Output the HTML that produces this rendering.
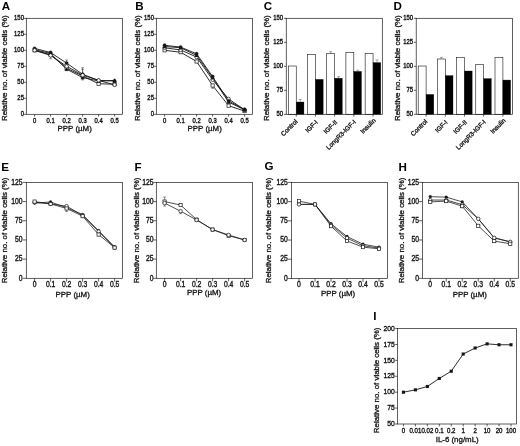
<!DOCTYPE html>
<html><head><meta charset="utf-8"><title>Figure</title>
<style>
html,body{margin:0;padding:0;background:#fff;}
body{width:520px;height:446px;overflow:hidden;font-family:"Liberation Sans",sans-serif;}
svg{display:block;font-family:"Liberation Sans",sans-serif;}
</style></head><body>
<svg width="520" height="446" viewBox="0 0 520 446">
<defs><filter id="soft" x="0" y="0" width="520" height="446" filterUnits="userSpaceOnUse"><feGaussianBlur stdDeviation="0.45"/></filter></defs>
<rect x="0" y="0" width="520" height="446" fill="#fff"/>
<g filter="url(#soft)">
<rect x="0" y="0" width="520" height="446" fill="#fff"/>
<rect x="26.30" y="18.30" width="96.20" height="96.00" fill="none" stroke="#161616" stroke-width="0.68"/>
<line x1="24.00" y1="114.30" x2="26.30" y2="114.30" stroke="#161616" stroke-width="0.68"/>
<text x="0.00" y="0.00" font-size="5.9" text-anchor="end" transform="translate(23.90 116.20) scale(1 1.25)" fill="#161616" stroke="#161616" stroke-width="0.32">0</text>
<line x1="24.00" y1="98.30" x2="26.30" y2="98.30" stroke="#161616" stroke-width="0.68"/>
<text x="0.00" y="0.00" font-size="5.9" text-anchor="end" transform="translate(23.90 100.20) scale(1 1.25)" fill="#161616" stroke="#161616" stroke-width="0.32">25</text>
<line x1="24.00" y1="82.30" x2="26.30" y2="82.30" stroke="#161616" stroke-width="0.68"/>
<text x="0.00" y="0.00" font-size="5.9" text-anchor="end" transform="translate(23.90 84.20) scale(1 1.25)" fill="#161616" stroke="#161616" stroke-width="0.32">50</text>
<line x1="24.00" y1="66.30" x2="26.30" y2="66.30" stroke="#161616" stroke-width="0.68"/>
<text x="0.00" y="0.00" font-size="5.9" text-anchor="end" transform="translate(23.90 68.20) scale(1 1.25)" fill="#161616" stroke="#161616" stroke-width="0.32">75</text>
<line x1="24.00" y1="50.30" x2="26.30" y2="50.30" stroke="#161616" stroke-width="0.68"/>
<text x="0.00" y="0.00" font-size="5.9" text-anchor="end" transform="translate(23.90 52.20) scale(1 1.25)" fill="#161616" stroke="#161616" stroke-width="0.32">100</text>
<line x1="24.00" y1="34.30" x2="26.30" y2="34.30" stroke="#161616" stroke-width="0.68"/>
<text x="0.00" y="0.00" font-size="5.9" text-anchor="end" transform="translate(23.90 36.20) scale(1 1.25)" fill="#161616" stroke="#161616" stroke-width="0.32">125</text>
<line x1="24.00" y1="18.30" x2="26.30" y2="18.30" stroke="#161616" stroke-width="0.68"/>
<text x="0.00" y="0.00" font-size="5.9" text-anchor="end" transform="translate(23.90 20.20) scale(1 1.25)" fill="#161616" stroke="#161616" stroke-width="0.32">150</text>
<line x1="34.60" y1="114.30" x2="34.60" y2="116.60" stroke="#161616" stroke-width="0.68"/>
<text x="0.00" y="0.00" font-size="5.9" text-anchor="middle" transform="translate(34.60 122.70) scale(1 1.25)" fill="#161616" stroke="#161616" stroke-width="0.32">0</text>
<line x1="50.60" y1="114.30" x2="50.60" y2="116.60" stroke="#161616" stroke-width="0.68"/>
<text x="0.00" y="0.00" font-size="5.9" text-anchor="middle" transform="translate(50.60 122.70) scale(1 1.25)" fill="#161616" stroke="#161616" stroke-width="0.32">0.1</text>
<line x1="66.60" y1="114.30" x2="66.60" y2="116.60" stroke="#161616" stroke-width="0.68"/>
<text x="0.00" y="0.00" font-size="5.9" text-anchor="middle" transform="translate(66.60 122.70) scale(1 1.25)" fill="#161616" stroke="#161616" stroke-width="0.32">0.2</text>
<line x1="82.60" y1="114.30" x2="82.60" y2="116.60" stroke="#161616" stroke-width="0.68"/>
<text x="0.00" y="0.00" font-size="5.9" text-anchor="middle" transform="translate(82.60 122.70) scale(1 1.25)" fill="#161616" stroke="#161616" stroke-width="0.32">0.3</text>
<line x1="98.60" y1="114.30" x2="98.60" y2="116.60" stroke="#161616" stroke-width="0.68"/>
<text x="0.00" y="0.00" font-size="5.9" text-anchor="middle" transform="translate(98.60 122.70) scale(1 1.25)" fill="#161616" stroke="#161616" stroke-width="0.32">0.4</text>
<line x1="114.60" y1="114.30" x2="114.60" y2="116.60" stroke="#161616" stroke-width="0.68"/>
<text x="0.00" y="0.00" font-size="5.9" text-anchor="middle" transform="translate(114.60 122.70) scale(1 1.25)" fill="#161616" stroke="#161616" stroke-width="0.32">0.5</text>
<text x="74.70" y="131.10" font-size="7.9" text-anchor="middle" fill="#161616" stroke="#161616" stroke-width="0.32">PPP (µM)</text>
<text x="0.00" y="0.00" font-size="7.9" text-anchor="start" transform="translate(7.30 121.00) rotate(-90)" fill="#161616" stroke="#161616" stroke-width="0.32">Relative no. of viable cells (%)</text>
<text x="1.80" y="9.50" font-size="11.6" text-anchor="start" font-weight="bold" fill="#000" stroke="#000" stroke-width="0">A</text>
<line x1="50.60" y1="55.42" x2="50.60" y2="58.82" stroke="#333" stroke-width="0.55"/>
<line x1="49.30" y1="58.82" x2="51.90" y2="58.82" stroke="#333" stroke-width="0.55"/>
<line x1="66.60" y1="60.00" x2="66.60" y2="63.10" stroke="#333" stroke-width="0.55"/>
<line x1="65.30" y1="60.00" x2="67.90" y2="60.00" stroke="#333" stroke-width="0.55"/>
<line x1="66.60" y1="68.22" x2="66.60" y2="70.72" stroke="#333" stroke-width="0.55"/>
<line x1="65.30" y1="70.72" x2="67.90" y2="70.72" stroke="#333" stroke-width="0.55"/>
<line x1="82.60" y1="67.73" x2="82.60" y2="75.13" stroke="#333" stroke-width="0.55"/>
<line x1="81.30" y1="67.73" x2="83.90" y2="67.73" stroke="#333" stroke-width="0.55"/>
<line x1="82.60" y1="69.33" x2="82.60" y2="75.13" stroke="#333" stroke-width="0.55"/>
<line x1="81.30" y1="69.33" x2="83.90" y2="69.33" stroke="#333" stroke-width="0.55"/>
<line x1="82.60" y1="75.13" x2="82.60" y2="79.93" stroke="#333" stroke-width="0.55"/>
<line x1="81.30" y1="79.93" x2="83.90" y2="79.93" stroke="#333" stroke-width="0.55"/>
<polyline points="34.60,50.30 50.60,54.78 66.60,68.22 82.60,75.90 98.60,83.77 114.60,84.22" fill="none" stroke="#161616" stroke-width="0.9" stroke-linejoin="round"/>
<polyline points="34.60,49.66 50.60,53.50 66.60,69.18 82.60,77.50 98.60,81.02 114.60,80.38" fill="none" stroke="#161616" stroke-width="0.9" stroke-linejoin="round"/>
<polyline points="34.60,48.38 50.60,52.54 66.60,63.10 82.60,74.30 98.60,80.38 114.60,81.02" fill="none" stroke="#161616" stroke-width="0.9" stroke-linejoin="round"/>
<polyline points="34.60,50.30 50.60,55.42 66.60,66.30 82.60,75.13 98.60,80.38 114.60,84.86" fill="none" stroke="#161616" stroke-width="0.9" stroke-linejoin="round"/>
<rect x="33.00" y="48.70" width="3.20" height="3.20" fill="#fff" stroke="#161616" stroke-width="0.7"/>
<rect x="49.00" y="53.18" width="3.20" height="3.20" fill="#fff" stroke="#161616" stroke-width="0.7"/>
<rect x="65.00" y="66.62" width="3.20" height="3.20" fill="#fff" stroke="#161616" stroke-width="0.7"/>
<rect x="81.00" y="74.30" width="3.20" height="3.20" fill="#fff" stroke="#161616" stroke-width="0.7"/>
<rect x="97.00" y="82.17" width="3.20" height="3.20" fill="#fff" stroke="#161616" stroke-width="0.7"/>
<rect x="113.00" y="82.62" width="3.20" height="3.20" fill="#fff" stroke="#161616" stroke-width="0.7"/>
<polygon points="34.60,47.56 36.70,51.34 32.50,51.34" fill="#161616"/>
<polygon points="50.60,51.40 52.70,55.18 48.50,55.18" fill="#161616"/>
<polygon points="66.60,67.08 68.70,70.86 64.50,70.86" fill="#161616"/>
<polygon points="82.60,75.40 84.70,79.18 80.50,79.18" fill="#161616"/>
<polygon points="98.60,78.92 100.70,82.70 96.50,82.70" fill="#161616"/>
<polygon points="114.60,78.28 116.70,82.06 112.50,82.06" fill="#161616"/>
<circle cx="34.60" cy="48.38" r="1.7" fill="#161616" stroke="#161616" stroke-width="0.3"/>
<circle cx="50.60" cy="52.54" r="1.7" fill="#161616" stroke="#161616" stroke-width="0.3"/>
<circle cx="66.60" cy="63.10" r="1.7" fill="#161616" stroke="#161616" stroke-width="0.3"/>
<circle cx="82.60" cy="74.30" r="1.7" fill="#161616" stroke="#161616" stroke-width="0.3"/>
<circle cx="98.60" cy="80.38" r="1.7" fill="#161616" stroke="#161616" stroke-width="0.3"/>
<circle cx="114.60" cy="81.02" r="1.7" fill="#161616" stroke="#161616" stroke-width="0.3"/>
<circle cx="34.60" cy="50.30" r="1.75" fill="#fff" stroke="#161616" stroke-width="0.7"/>
<circle cx="50.60" cy="55.42" r="1.75" fill="#fff" stroke="#161616" stroke-width="0.7"/>
<circle cx="66.60" cy="66.30" r="1.75" fill="#fff" stroke="#161616" stroke-width="0.7"/>
<circle cx="82.60" cy="75.13" r="1.75" fill="#fff" stroke="#161616" stroke-width="0.7"/>
<circle cx="98.60" cy="80.38" r="1.75" fill="#fff" stroke="#161616" stroke-width="0.7"/>
<circle cx="114.60" cy="84.86" r="1.75" fill="#fff" stroke="#161616" stroke-width="0.7"/>
<rect x="156.30" y="18.30" width="96.20" height="96.00" fill="none" stroke="#161616" stroke-width="0.68"/>
<line x1="154.00" y1="114.30" x2="156.30" y2="114.30" stroke="#161616" stroke-width="0.68"/>
<text x="0.00" y="0.00" font-size="5.9" text-anchor="end" transform="translate(153.90 116.20) scale(1 1.25)" fill="#161616" stroke="#161616" stroke-width="0.32">0</text>
<line x1="154.00" y1="98.30" x2="156.30" y2="98.30" stroke="#161616" stroke-width="0.68"/>
<text x="0.00" y="0.00" font-size="5.9" text-anchor="end" transform="translate(153.90 100.20) scale(1 1.25)" fill="#161616" stroke="#161616" stroke-width="0.32">25</text>
<line x1="154.00" y1="82.30" x2="156.30" y2="82.30" stroke="#161616" stroke-width="0.68"/>
<text x="0.00" y="0.00" font-size="5.9" text-anchor="end" transform="translate(153.90 84.20) scale(1 1.25)" fill="#161616" stroke="#161616" stroke-width="0.32">50</text>
<line x1="154.00" y1="66.30" x2="156.30" y2="66.30" stroke="#161616" stroke-width="0.68"/>
<text x="0.00" y="0.00" font-size="5.9" text-anchor="end" transform="translate(153.90 68.20) scale(1 1.25)" fill="#161616" stroke="#161616" stroke-width="0.32">75</text>
<line x1="154.00" y1="50.30" x2="156.30" y2="50.30" stroke="#161616" stroke-width="0.68"/>
<text x="0.00" y="0.00" font-size="5.9" text-anchor="end" transform="translate(153.90 52.20) scale(1 1.25)" fill="#161616" stroke="#161616" stroke-width="0.32">100</text>
<line x1="154.00" y1="34.30" x2="156.30" y2="34.30" stroke="#161616" stroke-width="0.68"/>
<text x="0.00" y="0.00" font-size="5.9" text-anchor="end" transform="translate(153.90 36.20) scale(1 1.25)" fill="#161616" stroke="#161616" stroke-width="0.32">125</text>
<line x1="154.00" y1="18.30" x2="156.30" y2="18.30" stroke="#161616" stroke-width="0.68"/>
<text x="0.00" y="0.00" font-size="5.9" text-anchor="end" transform="translate(153.90 20.20) scale(1 1.25)" fill="#161616" stroke="#161616" stroke-width="0.32">150</text>
<line x1="164.60" y1="114.30" x2="164.60" y2="116.60" stroke="#161616" stroke-width="0.68"/>
<text x="0.00" y="0.00" font-size="5.9" text-anchor="middle" transform="translate(164.60 122.70) scale(1 1.25)" fill="#161616" stroke="#161616" stroke-width="0.32">0</text>
<line x1="180.60" y1="114.30" x2="180.60" y2="116.60" stroke="#161616" stroke-width="0.68"/>
<text x="0.00" y="0.00" font-size="5.9" text-anchor="middle" transform="translate(180.60 122.70) scale(1 1.25)" fill="#161616" stroke="#161616" stroke-width="0.32">0.1</text>
<line x1="196.60" y1="114.30" x2="196.60" y2="116.60" stroke="#161616" stroke-width="0.68"/>
<text x="0.00" y="0.00" font-size="5.9" text-anchor="middle" transform="translate(196.60 122.70) scale(1 1.25)" fill="#161616" stroke="#161616" stroke-width="0.32">0.2</text>
<line x1="212.60" y1="114.30" x2="212.60" y2="116.60" stroke="#161616" stroke-width="0.68"/>
<text x="0.00" y="0.00" font-size="5.9" text-anchor="middle" transform="translate(212.60 122.70) scale(1 1.25)" fill="#161616" stroke="#161616" stroke-width="0.32">0.3</text>
<line x1="228.60" y1="114.30" x2="228.60" y2="116.60" stroke="#161616" stroke-width="0.68"/>
<text x="0.00" y="0.00" font-size="5.9" text-anchor="middle" transform="translate(228.60 122.70) scale(1 1.25)" fill="#161616" stroke="#161616" stroke-width="0.32">0.4</text>
<line x1="244.60" y1="114.30" x2="244.60" y2="116.60" stroke="#161616" stroke-width="0.68"/>
<text x="0.00" y="0.00" font-size="5.9" text-anchor="middle" transform="translate(244.60 122.70) scale(1 1.25)" fill="#161616" stroke="#161616" stroke-width="0.32">0.5</text>
<text x="204.70" y="131.10" font-size="7.9" text-anchor="middle" fill="#161616" stroke="#161616" stroke-width="0.32">PPP (µM)</text>
<text x="0.00" y="0.00" font-size="7.9" text-anchor="start" transform="translate(139.90 121.00) rotate(-90)" fill="#161616" stroke="#161616" stroke-width="0.32">Relative no. of viable cells (%)</text>
<text x="135.20" y="9.80" font-size="11.6" text-anchor="start" font-weight="bold" fill="#000" stroke="#000" stroke-width="0">B</text>
<line x1="212.60" y1="85.50" x2="212.60" y2="88.30" stroke="#333" stroke-width="0.55"/>
<line x1="211.30" y1="88.30" x2="213.90" y2="88.30" stroke="#333" stroke-width="0.55"/>
<polyline points="164.60,50.30 180.60,52.22 196.60,61.50 212.60,85.50 228.60,105.66 244.60,111.10" fill="none" stroke="#161616" stroke-width="0.9" stroke-linejoin="round"/>
<polyline points="164.60,47.74 180.60,49.98 196.60,57.02 212.60,79.74 228.60,98.94 244.60,109.82" fill="none" stroke="#161616" stroke-width="0.9" stroke-linejoin="round"/>
<polyline points="164.60,46.46 180.60,47.74 196.60,55.42 212.60,77.82 228.60,102.14 244.60,109.82" fill="none" stroke="#161616" stroke-width="0.9" stroke-linejoin="round"/>
<polyline points="164.60,45.31 180.60,47.10 196.60,53.82 212.60,76.54 228.60,100.86 244.60,109.50" fill="none" stroke="#161616" stroke-width="0.9" stroke-linejoin="round"/>
<rect x="163.00" y="48.70" width="3.20" height="3.20" fill="#fff" stroke="#161616" stroke-width="0.7"/>
<rect x="179.00" y="50.62" width="3.20" height="3.20" fill="#fff" stroke="#161616" stroke-width="0.7"/>
<rect x="195.00" y="59.90" width="3.20" height="3.20" fill="#fff" stroke="#161616" stroke-width="0.7"/>
<rect x="211.00" y="83.90" width="3.20" height="3.20" fill="#fff" stroke="#161616" stroke-width="0.7"/>
<rect x="227.00" y="104.06" width="3.20" height="3.20" fill="#fff" stroke="#161616" stroke-width="0.7"/>
<rect x="243.00" y="109.50" width="3.20" height="3.20" fill="#fff" stroke="#161616" stroke-width="0.7"/>
<circle cx="164.60" cy="47.74" r="1.75" fill="#fff" stroke="#161616" stroke-width="0.7"/>
<circle cx="180.60" cy="49.98" r="1.75" fill="#fff" stroke="#161616" stroke-width="0.7"/>
<circle cx="196.60" cy="57.02" r="1.75" fill="#fff" stroke="#161616" stroke-width="0.7"/>
<circle cx="212.60" cy="79.74" r="1.75" fill="#fff" stroke="#161616" stroke-width="0.7"/>
<circle cx="228.60" cy="98.94" r="1.75" fill="#fff" stroke="#161616" stroke-width="0.7"/>
<circle cx="244.60" cy="109.82" r="1.75" fill="#fff" stroke="#161616" stroke-width="0.7"/>
<polygon points="164.60,44.36 166.70,48.14 162.50,48.14" fill="#161616"/>
<polygon points="180.60,45.64 182.70,49.42 178.50,49.42" fill="#161616"/>
<polygon points="196.60,53.32 198.70,57.10 194.50,57.10" fill="#161616"/>
<polygon points="212.60,75.72 214.70,79.50 210.50,79.50" fill="#161616"/>
<polygon points="228.60,100.04 230.70,103.82 226.50,103.82" fill="#161616"/>
<polygon points="244.60,107.72 246.70,111.50 242.50,111.50" fill="#161616"/>
<circle cx="164.60" cy="45.31" r="1.7" fill="#161616" stroke="#161616" stroke-width="0.3"/>
<circle cx="180.60" cy="47.10" r="1.7" fill="#161616" stroke="#161616" stroke-width="0.3"/>
<circle cx="196.60" cy="53.82" r="1.7" fill="#161616" stroke="#161616" stroke-width="0.3"/>
<circle cx="212.60" cy="76.54" r="1.7" fill="#161616" stroke="#161616" stroke-width="0.3"/>
<circle cx="228.60" cy="100.86" r="1.7" fill="#161616" stroke="#161616" stroke-width="0.3"/>
<circle cx="244.60" cy="109.50" r="1.7" fill="#161616" stroke="#161616" stroke-width="0.3"/>
<line x1="283.95" y1="114.30" x2="286.25" y2="114.30" stroke="#161616" stroke-width="0.68"/>
<text x="0.00" y="0.00" font-size="5.9" text-anchor="end" transform="translate(283.05 116.20) scale(1 1.25)" fill="#161616" stroke="#161616" stroke-width="0.32">50</text>
<line x1="283.95" y1="90.30" x2="286.25" y2="90.30" stroke="#161616" stroke-width="0.68"/>
<text x="0.00" y="0.00" font-size="5.9" text-anchor="end" transform="translate(283.05 92.20) scale(1 1.25)" fill="#161616" stroke="#161616" stroke-width="0.32">75</text>
<line x1="283.95" y1="66.30" x2="286.25" y2="66.30" stroke="#161616" stroke-width="0.68"/>
<text x="0.00" y="0.00" font-size="5.9" text-anchor="end" transform="translate(283.05 68.20) scale(1 1.25)" fill="#161616" stroke="#161616" stroke-width="0.32">100</text>
<line x1="283.95" y1="42.30" x2="286.25" y2="42.30" stroke="#161616" stroke-width="0.68"/>
<text x="0.00" y="0.00" font-size="5.9" text-anchor="end" transform="translate(283.05 44.20) scale(1 1.25)" fill="#161616" stroke="#161616" stroke-width="0.32">125</text>
<line x1="283.95" y1="18.30" x2="286.25" y2="18.30" stroke="#161616" stroke-width="0.68"/>
<text x="0.00" y="0.00" font-size="5.9" text-anchor="end" transform="translate(283.05 20.20) scale(1 1.25)" fill="#161616" stroke="#161616" stroke-width="0.32">150</text>
<line x1="300.20" y1="99.41" x2="300.20" y2="102.01" stroke="#555" stroke-width="0.5"/>
<line x1="298.70" y1="99.41" x2="301.70" y2="99.41" stroke="#555" stroke-width="0.5"/>
<rect x="288.35" y="66.01" width="7.90" height="48.29" fill="#fff" stroke="#161616" stroke-width="0.6"/>
<rect x="296.25" y="102.01" width="7.70" height="12.29" fill="#050505" stroke="#050505" stroke-width="0.3"/>
<line x1="296.25" y1="114.30" x2="296.25" y2="116.60" stroke="#161616" stroke-width="0.68"/>
<text x="0.00" y="0.00" font-size="6.4" text-anchor="end" transform="translate(297.95 121.90) rotate(-45)" fill="#161616" stroke="#161616" stroke-width="0.32">Control</text>
<rect x="307.55" y="54.40" width="7.90" height="59.90" fill="#fff" stroke="#161616" stroke-width="0.6"/>
<rect x="315.45" y="79.36" width="7.70" height="34.94" fill="#050505" stroke="#050505" stroke-width="0.3"/>
<line x1="315.45" y1="114.30" x2="315.45" y2="116.60" stroke="#161616" stroke-width="0.68"/>
<text x="0.00" y="0.00" font-size="6.4" text-anchor="end" transform="translate(318.25 122.70) rotate(-45)" fill="#161616" stroke="#161616" stroke-width="0.32">IGF-I</text>
<line x1="330.65" y1="51.64" x2="330.65" y2="53.44" stroke="#555" stroke-width="0.5"/>
<line x1="329.15" y1="51.64" x2="332.15" y2="51.64" stroke="#555" stroke-width="0.5"/>
<line x1="338.55" y1="76.60" x2="338.55" y2="78.20" stroke="#555" stroke-width="0.5"/>
<line x1="337.05" y1="76.60" x2="340.05" y2="76.60" stroke="#555" stroke-width="0.5"/>
<rect x="326.70" y="53.44" width="7.90" height="60.86" fill="#fff" stroke="#161616" stroke-width="0.6"/>
<rect x="334.60" y="78.20" width="7.70" height="36.10" fill="#050505" stroke="#050505" stroke-width="0.3"/>
<line x1="334.60" y1="114.30" x2="334.60" y2="116.60" stroke="#161616" stroke-width="0.68"/>
<text x="0.00" y="0.00" font-size="6.4" text-anchor="end" transform="translate(337.70 122.70) rotate(-45)" fill="#161616" stroke="#161616" stroke-width="0.32">IGF-II</text>
<line x1="357.75" y1="70.19" x2="357.75" y2="71.39" stroke="#555" stroke-width="0.5"/>
<line x1="356.25" y1="70.19" x2="359.25" y2="70.19" stroke="#555" stroke-width="0.5"/>
<rect x="345.90" y="52.38" width="7.90" height="61.92" fill="#fff" stroke="#161616" stroke-width="0.6"/>
<rect x="353.80" y="71.39" width="7.70" height="42.91" fill="#050505" stroke="#050505" stroke-width="0.3"/>
<line x1="353.80" y1="114.30" x2="353.80" y2="116.60" stroke="#161616" stroke-width="0.68"/>
<text x="0.00" y="0.00" font-size="6.4" text-anchor="end" transform="translate(356.40 122.50) rotate(-45)" fill="#161616" stroke="#161616" stroke-width="0.32">LongR3-IGF-I</text>
<line x1="377.00" y1="59.96" x2="377.00" y2="62.56" stroke="#555" stroke-width="0.5"/>
<line x1="375.50" y1="59.96" x2="378.50" y2="59.96" stroke="#555" stroke-width="0.5"/>
<rect x="365.15" y="53.44" width="7.90" height="60.86" fill="#fff" stroke="#161616" stroke-width="0.6"/>
<rect x="373.05" y="62.56" width="7.70" height="51.74" fill="#050505" stroke="#050505" stroke-width="0.3"/>
<line x1="373.05" y1="114.30" x2="373.05" y2="116.60" stroke="#161616" stroke-width="0.68"/>
<text x="0.00" y="0.00" font-size="6.4" text-anchor="end" transform="translate(376.15 121.00) rotate(-45)" fill="#161616" stroke="#161616" stroke-width="0.32">Insulin</text>
<rect x="286.25" y="18.30" width="96.05" height="96.00" fill="none" stroke="#161616" stroke-width="0.68"/>
<text x="0.00" y="0.00" font-size="7.9" text-anchor="start" transform="translate(269.30 121.00) rotate(-90)" fill="#161616" stroke="#161616" stroke-width="0.32">Relative no. of viable cells (%)</text>
<text x="263.70" y="10.00" font-size="11.6" text-anchor="start" font-weight="bold" fill="#000" stroke="#000" stroke-width="0">C</text>
<line x1="413.90" y1="114.30" x2="416.20" y2="114.30" stroke="#161616" stroke-width="0.68"/>
<text x="0.00" y="0.00" font-size="5.9" text-anchor="end" transform="translate(413.00 116.20) scale(1 1.25)" fill="#161616" stroke="#161616" stroke-width="0.32">50</text>
<line x1="413.90" y1="90.30" x2="416.20" y2="90.30" stroke="#161616" stroke-width="0.68"/>
<text x="0.00" y="0.00" font-size="5.9" text-anchor="end" transform="translate(413.00 92.20) scale(1 1.25)" fill="#161616" stroke="#161616" stroke-width="0.32">75</text>
<line x1="413.90" y1="66.30" x2="416.20" y2="66.30" stroke="#161616" stroke-width="0.68"/>
<text x="0.00" y="0.00" font-size="5.9" text-anchor="end" transform="translate(413.00 68.20) scale(1 1.25)" fill="#161616" stroke="#161616" stroke-width="0.32">100</text>
<line x1="413.90" y1="42.30" x2="416.20" y2="42.30" stroke="#161616" stroke-width="0.68"/>
<text x="0.00" y="0.00" font-size="5.9" text-anchor="end" transform="translate(413.00 44.20) scale(1 1.25)" fill="#161616" stroke="#161616" stroke-width="0.32">125</text>
<line x1="413.90" y1="18.30" x2="416.20" y2="18.30" stroke="#161616" stroke-width="0.68"/>
<text x="0.00" y="0.00" font-size="5.9" text-anchor="end" transform="translate(413.00 20.20) scale(1 1.25)" fill="#161616" stroke="#161616" stroke-width="0.32">150</text>
<rect x="418.20" y="66.01" width="7.90" height="48.29" fill="#fff" stroke="#161616" stroke-width="0.6"/>
<rect x="426.10" y="94.43" width="7.70" height="19.87" fill="#050505" stroke="#050505" stroke-width="0.3"/>
<line x1="426.10" y1="114.30" x2="426.10" y2="116.60" stroke="#161616" stroke-width="0.68"/>
<text x="0.00" y="0.00" font-size="6.4" text-anchor="end" transform="translate(427.80 121.90) rotate(-45)" fill="#161616" stroke="#161616" stroke-width="0.32">Control</text>
<line x1="441.35" y1="57.40" x2="441.35" y2="59.00" stroke="#555" stroke-width="0.5"/>
<line x1="439.85" y1="57.40" x2="442.85" y2="57.40" stroke="#555" stroke-width="0.5"/>
<rect x="437.40" y="59.00" width="7.90" height="55.30" fill="#fff" stroke="#161616" stroke-width="0.6"/>
<rect x="445.30" y="75.61" width="7.70" height="38.69" fill="#050505" stroke="#050505" stroke-width="0.3"/>
<line x1="445.30" y1="114.30" x2="445.30" y2="116.60" stroke="#161616" stroke-width="0.68"/>
<text x="0.00" y="0.00" font-size="6.4" text-anchor="end" transform="translate(448.10 122.70) rotate(-45)" fill="#161616" stroke="#161616" stroke-width="0.32">IGF-I</text>
<rect x="456.55" y="57.37" width="7.90" height="56.93" fill="#fff" stroke="#161616" stroke-width="0.6"/>
<rect x="464.45" y="71.00" width="7.70" height="43.30" fill="#050505" stroke="#050505" stroke-width="0.3"/>
<line x1="464.45" y1="114.30" x2="464.45" y2="116.60" stroke="#161616" stroke-width="0.68"/>
<text x="0.00" y="0.00" font-size="6.4" text-anchor="end" transform="translate(467.55 122.70) rotate(-45)" fill="#161616" stroke="#161616" stroke-width="0.32">IGF-II</text>
<rect x="475.75" y="64.57" width="7.90" height="49.73" fill="#fff" stroke="#161616" stroke-width="0.6"/>
<rect x="483.65" y="78.59" width="7.70" height="35.71" fill="#050505" stroke="#050505" stroke-width="0.3"/>
<line x1="483.65" y1="114.30" x2="483.65" y2="116.60" stroke="#161616" stroke-width="0.68"/>
<text x="0.00" y="0.00" font-size="6.4" text-anchor="end" transform="translate(486.25 122.50) rotate(-45)" fill="#161616" stroke="#161616" stroke-width="0.32">LongR3-IGF-I</text>
<rect x="495.00" y="57.56" width="7.90" height="56.74" fill="#fff" stroke="#161616" stroke-width="0.6"/>
<rect x="502.90" y="80.03" width="7.70" height="34.27" fill="#050505" stroke="#050505" stroke-width="0.3"/>
<line x1="502.90" y1="114.30" x2="502.90" y2="116.60" stroke="#161616" stroke-width="0.68"/>
<text x="0.00" y="0.00" font-size="6.4" text-anchor="end" transform="translate(506.00 121.00) rotate(-45)" fill="#161616" stroke="#161616" stroke-width="0.32">Insulin</text>
<rect x="416.20" y="18.30" width="96.30" height="96.00" fill="none" stroke="#161616" stroke-width="0.68"/>
<text x="0.00" y="0.00" font-size="7.9" text-anchor="start" transform="translate(399.60 121.00) rotate(-90)" fill="#161616" stroke="#161616" stroke-width="0.32">Relative no. of viable cells (%)</text>
<text x="393.40" y="9.80" font-size="11.6" text-anchor="start" font-weight="bold" fill="#000" stroke="#000" stroke-width="0">D</text>
<rect x="26.30" y="182.40" width="96.20" height="95.90" fill="none" stroke="#161616" stroke-width="0.68"/>
<line x1="22.90" y1="278.30" x2="26.30" y2="278.30" stroke="#161616" stroke-width="0.68"/>
<text x="0.00" y="0.00" font-size="6.8" text-anchor="end" transform="translate(22.60 280.50) scale(1 1.2)" fill="#161616" stroke="#161616" stroke-width="0.32">0</text>
<line x1="22.90" y1="259.12" x2="26.30" y2="259.12" stroke="#161616" stroke-width="0.68"/>
<text x="0.00" y="0.00" font-size="6.8" text-anchor="end" transform="translate(22.60 261.32) scale(1 1.2)" fill="#161616" stroke="#161616" stroke-width="0.32">25</text>
<line x1="22.90" y1="239.94" x2="26.30" y2="239.94" stroke="#161616" stroke-width="0.68"/>
<text x="0.00" y="0.00" font-size="6.8" text-anchor="end" transform="translate(22.60 242.14) scale(1 1.2)" fill="#161616" stroke="#161616" stroke-width="0.32">50</text>
<line x1="22.90" y1="220.76" x2="26.30" y2="220.76" stroke="#161616" stroke-width="0.68"/>
<text x="0.00" y="0.00" font-size="6.8" text-anchor="end" transform="translate(22.60 222.96) scale(1 1.2)" fill="#161616" stroke="#161616" stroke-width="0.32">75</text>
<line x1="22.90" y1="201.58" x2="26.30" y2="201.58" stroke="#161616" stroke-width="0.68"/>
<text x="0.00" y="0.00" font-size="6.8" text-anchor="end" transform="translate(22.60 203.78) scale(1 1.2)" fill="#161616" stroke="#161616" stroke-width="0.32">100</text>
<line x1="22.90" y1="182.40" x2="26.30" y2="182.40" stroke="#161616" stroke-width="0.68"/>
<text x="0.00" y="0.00" font-size="6.8" text-anchor="end" transform="translate(22.60 184.60) scale(1 1.2)" fill="#161616" stroke="#161616" stroke-width="0.32">125</text>
<line x1="34.60" y1="278.30" x2="34.60" y2="281.70" stroke="#161616" stroke-width="0.68"/>
<text x="0.00" y="0.00" font-size="6.8" text-anchor="middle" transform="translate(34.60 287.20) scale(1 1.2)" fill="#161616" stroke="#161616" stroke-width="0.32">0</text>
<line x1="50.60" y1="278.30" x2="50.60" y2="281.70" stroke="#161616" stroke-width="0.68"/>
<text x="0.00" y="0.00" font-size="6.8" text-anchor="middle" transform="translate(50.60 287.20) scale(1 1.2)" fill="#161616" stroke="#161616" stroke-width="0.32">0.1</text>
<line x1="66.60" y1="278.30" x2="66.60" y2="281.70" stroke="#161616" stroke-width="0.68"/>
<text x="0.00" y="0.00" font-size="6.8" text-anchor="middle" transform="translate(66.60 287.20) scale(1 1.2)" fill="#161616" stroke="#161616" stroke-width="0.32">0.2</text>
<line x1="82.60" y1="278.30" x2="82.60" y2="281.70" stroke="#161616" stroke-width="0.68"/>
<text x="0.00" y="0.00" font-size="6.8" text-anchor="middle" transform="translate(82.60 287.20) scale(1 1.2)" fill="#161616" stroke="#161616" stroke-width="0.32">0.3</text>
<line x1="98.60" y1="278.30" x2="98.60" y2="281.70" stroke="#161616" stroke-width="0.68"/>
<text x="0.00" y="0.00" font-size="6.8" text-anchor="middle" transform="translate(98.60 287.20) scale(1 1.2)" fill="#161616" stroke="#161616" stroke-width="0.32">0.4</text>
<line x1="114.60" y1="278.30" x2="114.60" y2="281.70" stroke="#161616" stroke-width="0.68"/>
<text x="0.00" y="0.00" font-size="6.8" text-anchor="middle" transform="translate(114.60 287.20) scale(1 1.2)" fill="#161616" stroke="#161616" stroke-width="0.32">0.5</text>
<text x="72.70" y="297.00" font-size="7.9" text-anchor="middle" fill="#161616" stroke="#161616" stroke-width="0.32">PPP (µM)</text>
<text x="0.00" y="0.00" font-size="7.9" text-anchor="start" transform="translate(7.40 283.30) rotate(-90)" fill="#161616" stroke="#161616" stroke-width="0.32">Relative no. of viable cells (%)</text>
<text x="1.30" y="170.60" font-size="11.6" text-anchor="start" font-weight="bold" fill="#000" stroke="#000" stroke-width="0">E</text>
<line x1="66.60" y1="208.48" x2="66.60" y2="211.48" stroke="#333" stroke-width="0.55"/>
<line x1="65.30" y1="211.48" x2="67.90" y2="211.48" stroke="#333" stroke-width="0.55"/>
<polyline points="34.60,203.11 50.60,201.96 66.60,207.72 82.60,214.62 98.60,230.73 114.60,246.84" fill="none" stroke="#161616" stroke-width="0.75" stroke-linejoin="round"/>
<polyline points="34.60,202.35 50.60,203.88 66.60,206.18 82.60,215.39 98.60,231.50 114.60,247.61" fill="none" stroke="#161616" stroke-width="0.75" stroke-linejoin="round"/>
<polyline points="34.60,201.58 50.60,203.88 66.60,208.48 82.60,216.16 98.60,234.57 114.60,247.61" fill="none" stroke="#161616" stroke-width="0.75" stroke-linejoin="round"/>
<circle cx="34.60" cy="203.11" r="1.4" fill="#161616" stroke="#161616" stroke-width="0.3"/>
<circle cx="50.60" cy="201.96" r="1.4" fill="#161616" stroke="#161616" stroke-width="0.3"/>
<circle cx="66.60" cy="207.72" r="1.4" fill="#161616" stroke="#161616" stroke-width="0.3"/>
<circle cx="82.60" cy="214.62" r="1.4" fill="#161616" stroke="#161616" stroke-width="0.3"/>
<circle cx="98.60" cy="230.73" r="1.4" fill="#161616" stroke="#161616" stroke-width="0.3"/>
<circle cx="114.60" cy="246.84" r="1.4" fill="#161616" stroke="#161616" stroke-width="0.3"/>
<circle cx="34.60" cy="202.35" r="1.75" fill="#fff" stroke="#161616" stroke-width="0.7"/>
<circle cx="50.60" cy="203.88" r="1.75" fill="#fff" stroke="#161616" stroke-width="0.7"/>
<circle cx="66.60" cy="206.18" r="1.75" fill="#fff" stroke="#161616" stroke-width="0.7"/>
<circle cx="82.60" cy="215.39" r="1.75" fill="#fff" stroke="#161616" stroke-width="0.7"/>
<circle cx="98.60" cy="231.50" r="1.75" fill="#fff" stroke="#161616" stroke-width="0.7"/>
<circle cx="114.60" cy="247.61" r="1.75" fill="#fff" stroke="#161616" stroke-width="0.7"/>
<rect x="33.00" y="199.98" width="3.20" height="3.20" fill="#fff" stroke="#161616" stroke-width="0.7"/>
<rect x="49.00" y="202.28" width="3.20" height="3.20" fill="#fff" stroke="#161616" stroke-width="0.7"/>
<rect x="65.00" y="206.88" width="3.20" height="3.20" fill="#fff" stroke="#161616" stroke-width="0.7"/>
<rect x="81.00" y="214.56" width="3.20" height="3.20" fill="#fff" stroke="#161616" stroke-width="0.7"/>
<rect x="97.00" y="232.97" width="3.20" height="3.20" fill="#fff" stroke="#161616" stroke-width="0.7"/>
<rect x="113.00" y="246.01" width="3.20" height="3.20" fill="#fff" stroke="#161616" stroke-width="0.7"/>
<rect x="156.30" y="182.40" width="96.20" height="95.90" fill="none" stroke="#161616" stroke-width="0.68"/>
<line x1="153.30" y1="278.30" x2="156.30" y2="278.30" stroke="#161616" stroke-width="0.68"/>
<text x="0.00" y="0.00" font-size="6.8" text-anchor="end" transform="translate(153.60 280.50) scale(1 1.2)" fill="#161616" stroke="#161616" stroke-width="0.32">0</text>
<line x1="153.30" y1="259.12" x2="156.30" y2="259.12" stroke="#161616" stroke-width="0.68"/>
<text x="0.00" y="0.00" font-size="6.8" text-anchor="end" transform="translate(153.60 261.32) scale(1 1.2)" fill="#161616" stroke="#161616" stroke-width="0.32">25</text>
<line x1="153.30" y1="239.94" x2="156.30" y2="239.94" stroke="#161616" stroke-width="0.68"/>
<text x="0.00" y="0.00" font-size="6.8" text-anchor="end" transform="translate(153.60 242.14) scale(1 1.2)" fill="#161616" stroke="#161616" stroke-width="0.32">50</text>
<line x1="153.30" y1="220.76" x2="156.30" y2="220.76" stroke="#161616" stroke-width="0.68"/>
<text x="0.00" y="0.00" font-size="6.8" text-anchor="end" transform="translate(153.60 222.96) scale(1 1.2)" fill="#161616" stroke="#161616" stroke-width="0.32">75</text>
<line x1="153.30" y1="201.58" x2="156.30" y2="201.58" stroke="#161616" stroke-width="0.68"/>
<text x="0.00" y="0.00" font-size="6.8" text-anchor="end" transform="translate(153.60 203.78) scale(1 1.2)" fill="#161616" stroke="#161616" stroke-width="0.32">100</text>
<line x1="153.30" y1="182.40" x2="156.30" y2="182.40" stroke="#161616" stroke-width="0.68"/>
<text x="0.00" y="0.00" font-size="6.8" text-anchor="end" transform="translate(153.60 184.60) scale(1 1.2)" fill="#161616" stroke="#161616" stroke-width="0.32">125</text>
<line x1="164.60" y1="278.30" x2="164.60" y2="281.30" stroke="#161616" stroke-width="0.68"/>
<text x="0.00" y="0.00" font-size="6.8" text-anchor="middle" transform="translate(164.60 287.20) scale(1 1.2)" fill="#161616" stroke="#161616" stroke-width="0.32">0</text>
<line x1="180.60" y1="278.30" x2="180.60" y2="281.30" stroke="#161616" stroke-width="0.68"/>
<text x="0.00" y="0.00" font-size="6.8" text-anchor="middle" transform="translate(180.60 287.20) scale(1 1.2)" fill="#161616" stroke="#161616" stroke-width="0.32">0.1</text>
<line x1="196.60" y1="278.30" x2="196.60" y2="281.30" stroke="#161616" stroke-width="0.68"/>
<text x="0.00" y="0.00" font-size="6.8" text-anchor="middle" transform="translate(196.60 287.20) scale(1 1.2)" fill="#161616" stroke="#161616" stroke-width="0.32">0.2</text>
<line x1="212.60" y1="278.30" x2="212.60" y2="281.30" stroke="#161616" stroke-width="0.68"/>
<text x="0.00" y="0.00" font-size="6.8" text-anchor="middle" transform="translate(212.60 287.20) scale(1 1.2)" fill="#161616" stroke="#161616" stroke-width="0.32">0.3</text>
<line x1="228.60" y1="278.30" x2="228.60" y2="281.30" stroke="#161616" stroke-width="0.68"/>
<text x="0.00" y="0.00" font-size="6.8" text-anchor="middle" transform="translate(228.60 287.20) scale(1 1.2)" fill="#161616" stroke="#161616" stroke-width="0.32">0.4</text>
<line x1="244.60" y1="278.30" x2="244.60" y2="281.30" stroke="#161616" stroke-width="0.68"/>
<text x="0.00" y="0.00" font-size="6.8" text-anchor="middle" transform="translate(244.60 287.20) scale(1 1.2)" fill="#161616" stroke="#161616" stroke-width="0.32">0.5</text>
<text x="204.10" y="295.20" font-size="7.9" text-anchor="middle" fill="#161616" stroke="#161616" stroke-width="0.32">PPP (µM)</text>
<text x="0.00" y="0.00" font-size="7.9" text-anchor="start" transform="translate(138.70 283.30) rotate(-90)" fill="#161616" stroke="#161616" stroke-width="0.32">Relative no. of viable cells (%)</text>
<text x="134.40" y="170.60" font-size="11.6" text-anchor="start" font-weight="bold" fill="#000" stroke="#000" stroke-width="0">F</text>
<line x1="164.60" y1="197.08" x2="164.60" y2="206.08" stroke="#333" stroke-width="0.55"/>
<line x1="163.30" y1="197.08" x2="165.90" y2="197.08" stroke="#333" stroke-width="0.55"/>
<line x1="163.30" y1="206.08" x2="165.90" y2="206.08" stroke="#333" stroke-width="0.55"/>
<line x1="180.60" y1="211.17" x2="180.60" y2="213.67" stroke="#333" stroke-width="0.55"/>
<line x1="179.30" y1="213.67" x2="181.90" y2="213.67" stroke="#333" stroke-width="0.55"/>
<polyline points="164.60,201.58 180.60,205.03 196.60,219.61 212.60,229.58 228.60,235.72 244.60,239.94" fill="none" stroke="#161616" stroke-width="0.75" stroke-linejoin="round"/>
<polyline points="164.60,203.11 180.60,211.17 196.60,219.99 212.60,229.58 228.60,234.95 244.60,239.94" fill="none" stroke="#161616" stroke-width="0.75" stroke-linejoin="round"/>
<rect x="163.00" y="199.98" width="3.20" height="3.20" fill="#fff" stroke="#161616" stroke-width="0.7"/>
<rect x="179.00" y="203.43" width="3.20" height="3.20" fill="#fff" stroke="#161616" stroke-width="0.7"/>
<rect x="195.00" y="218.01" width="3.20" height="3.20" fill="#fff" stroke="#161616" stroke-width="0.7"/>
<rect x="211.00" y="227.98" width="3.20" height="3.20" fill="#fff" stroke="#161616" stroke-width="0.7"/>
<rect x="227.00" y="234.12" width="3.20" height="3.20" fill="#fff" stroke="#161616" stroke-width="0.7"/>
<rect x="243.00" y="238.34" width="3.20" height="3.20" fill="#fff" stroke="#161616" stroke-width="0.7"/>
<circle cx="164.60" cy="203.11" r="1.75" fill="#fff" stroke="#161616" stroke-width="0.7"/>
<circle cx="180.60" cy="211.17" r="1.75" fill="#fff" stroke="#161616" stroke-width="0.7"/>
<circle cx="196.60" cy="219.99" r="1.75" fill="#fff" stroke="#161616" stroke-width="0.7"/>
<circle cx="212.60" cy="229.58" r="1.75" fill="#fff" stroke="#161616" stroke-width="0.7"/>
<circle cx="228.60" cy="234.95" r="1.75" fill="#fff" stroke="#161616" stroke-width="0.7"/>
<circle cx="244.60" cy="239.94" r="1.75" fill="#fff" stroke="#161616" stroke-width="0.7"/>
<rect x="291.40" y="182.40" width="96.10" height="96.10" fill="none" stroke="#161616" stroke-width="0.68"/>
<line x1="288.00" y1="278.50" x2="291.40" y2="278.50" stroke="#161616" stroke-width="0.68"/>
<text x="0.00" y="0.00" font-size="6.8" text-anchor="end" transform="translate(287.80 280.70) scale(1 1.2)" fill="#161616" stroke="#161616" stroke-width="0.32">0</text>
<line x1="288.00" y1="259.28" x2="291.40" y2="259.28" stroke="#161616" stroke-width="0.68"/>
<text x="0.00" y="0.00" font-size="6.8" text-anchor="end" transform="translate(287.80 261.48) scale(1 1.2)" fill="#161616" stroke="#161616" stroke-width="0.32">25</text>
<line x1="288.00" y1="240.06" x2="291.40" y2="240.06" stroke="#161616" stroke-width="0.68"/>
<text x="0.00" y="0.00" font-size="6.8" text-anchor="end" transform="translate(287.80 242.26) scale(1 1.2)" fill="#161616" stroke="#161616" stroke-width="0.32">50</text>
<line x1="288.00" y1="220.84" x2="291.40" y2="220.84" stroke="#161616" stroke-width="0.68"/>
<text x="0.00" y="0.00" font-size="6.8" text-anchor="end" transform="translate(287.80 223.04) scale(1 1.2)" fill="#161616" stroke="#161616" stroke-width="0.32">75</text>
<line x1="288.00" y1="201.62" x2="291.40" y2="201.62" stroke="#161616" stroke-width="0.68"/>
<text x="0.00" y="0.00" font-size="6.8" text-anchor="end" transform="translate(287.80 203.82) scale(1 1.2)" fill="#161616" stroke="#161616" stroke-width="0.32">100</text>
<line x1="288.00" y1="182.40" x2="291.40" y2="182.40" stroke="#161616" stroke-width="0.68"/>
<text x="0.00" y="0.00" font-size="6.8" text-anchor="end" transform="translate(287.80 184.60) scale(1 1.2)" fill="#161616" stroke="#161616" stroke-width="0.32">125</text>
<line x1="299.00" y1="278.50" x2="299.00" y2="281.90" stroke="#161616" stroke-width="0.68"/>
<text x="0.00" y="0.00" font-size="6.8" text-anchor="middle" transform="translate(299.00 287.40) scale(1 1.2)" fill="#161616" stroke="#161616" stroke-width="0.32">0</text>
<line x1="315.00" y1="278.50" x2="315.00" y2="281.90" stroke="#161616" stroke-width="0.68"/>
<text x="0.00" y="0.00" font-size="6.8" text-anchor="middle" transform="translate(315.00 287.40) scale(1 1.2)" fill="#161616" stroke="#161616" stroke-width="0.32">0.1</text>
<line x1="331.00" y1="278.50" x2="331.00" y2="281.90" stroke="#161616" stroke-width="0.68"/>
<text x="0.00" y="0.00" font-size="6.8" text-anchor="middle" transform="translate(331.00 287.40) scale(1 1.2)" fill="#161616" stroke="#161616" stroke-width="0.32">0.2</text>
<line x1="347.00" y1="278.50" x2="347.00" y2="281.90" stroke="#161616" stroke-width="0.68"/>
<text x="0.00" y="0.00" font-size="6.8" text-anchor="middle" transform="translate(347.00 287.40) scale(1 1.2)" fill="#161616" stroke="#161616" stroke-width="0.32">0.3</text>
<line x1="363.00" y1="278.50" x2="363.00" y2="281.90" stroke="#161616" stroke-width="0.68"/>
<text x="0.00" y="0.00" font-size="6.8" text-anchor="middle" transform="translate(363.00 287.40) scale(1 1.2)" fill="#161616" stroke="#161616" stroke-width="0.32">0.4</text>
<line x1="379.00" y1="278.50" x2="379.00" y2="281.90" stroke="#161616" stroke-width="0.68"/>
<text x="0.00" y="0.00" font-size="6.8" text-anchor="middle" transform="translate(379.00 287.40) scale(1 1.2)" fill="#161616" stroke="#161616" stroke-width="0.32">0.5</text>
<text x="338.05" y="296.40" font-size="7.9" text-anchor="middle" fill="#161616" stroke="#161616" stroke-width="0.32">PPP (µM)</text>
<text x="0.00" y="0.00" font-size="7.9" text-anchor="start" transform="translate(271.10 283.30) rotate(-90)" fill="#161616" stroke="#161616" stroke-width="0.32">Relative no. of viable cells (%)</text>
<text x="264.40" y="169.90" font-size="11.6" text-anchor="start" font-weight="bold" fill="#000" stroke="#000" stroke-width="0">G</text>
<polyline points="299.00,204.39 315.00,204.39 331.00,223.68 347.00,236.52 363.00,244.21 379.00,247.13" fill="none" stroke="#161616" stroke-width="0.75" stroke-linejoin="round"/>
<polyline points="299.00,204.39 315.00,204.39 331.00,224.99 347.00,238.06 363.00,245.75 379.00,248.06" fill="none" stroke="#161616" stroke-width="0.75" stroke-linejoin="round"/>
<polyline points="299.00,201.16 315.00,204.39 331.00,226.14 347.00,240.98 363.00,247.13 379.00,248.82" fill="none" stroke="#161616" stroke-width="0.75" stroke-linejoin="round"/>
<circle cx="299.00" cy="204.39" r="1.4" fill="#161616" stroke="#161616" stroke-width="0.3"/>
<circle cx="315.00" cy="204.39" r="1.4" fill="#161616" stroke="#161616" stroke-width="0.3"/>
<circle cx="331.00" cy="223.68" r="1.4" fill="#161616" stroke="#161616" stroke-width="0.3"/>
<circle cx="347.00" cy="236.52" r="1.4" fill="#161616" stroke="#161616" stroke-width="0.3"/>
<circle cx="363.00" cy="244.21" r="1.4" fill="#161616" stroke="#161616" stroke-width="0.3"/>
<circle cx="379.00" cy="247.13" r="1.4" fill="#161616" stroke="#161616" stroke-width="0.3"/>
<circle cx="299.00" cy="204.39" r="1.75" fill="#fff" stroke="#161616" stroke-width="0.7"/>
<circle cx="315.00" cy="204.39" r="1.75" fill="#fff" stroke="#161616" stroke-width="0.7"/>
<circle cx="331.00" cy="224.99" r="1.75" fill="#fff" stroke="#161616" stroke-width="0.7"/>
<circle cx="347.00" cy="238.06" r="1.75" fill="#fff" stroke="#161616" stroke-width="0.7"/>
<circle cx="363.00" cy="245.75" r="1.75" fill="#fff" stroke="#161616" stroke-width="0.7"/>
<circle cx="379.00" cy="248.06" r="1.75" fill="#fff" stroke="#161616" stroke-width="0.7"/>
<rect x="297.40" y="199.56" width="3.20" height="3.20" fill="#fff" stroke="#161616" stroke-width="0.7"/>
<rect x="313.40" y="202.79" width="3.20" height="3.20" fill="#fff" stroke="#161616" stroke-width="0.7"/>
<rect x="329.40" y="224.54" width="3.20" height="3.20" fill="#fff" stroke="#161616" stroke-width="0.7"/>
<rect x="345.40" y="239.38" width="3.20" height="3.20" fill="#fff" stroke="#161616" stroke-width="0.7"/>
<rect x="361.40" y="245.53" width="3.20" height="3.20" fill="#fff" stroke="#161616" stroke-width="0.7"/>
<rect x="377.40" y="247.22" width="3.20" height="3.20" fill="#fff" stroke="#161616" stroke-width="0.7"/>
<rect x="422.40" y="182.40" width="95.90" height="95.90" fill="none" stroke="#161616" stroke-width="0.68"/>
<line x1="419.00" y1="278.30" x2="422.40" y2="278.30" stroke="#161616" stroke-width="0.68"/>
<text x="0.00" y="0.00" font-size="6.8" text-anchor="end" transform="translate(419.10 280.50) scale(1 1.2)" fill="#161616" stroke="#161616" stroke-width="0.32">0</text>
<line x1="419.00" y1="259.12" x2="422.40" y2="259.12" stroke="#161616" stroke-width="0.68"/>
<text x="0.00" y="0.00" font-size="6.8" text-anchor="end" transform="translate(419.10 261.32) scale(1 1.2)" fill="#161616" stroke="#161616" stroke-width="0.32">25</text>
<line x1="419.00" y1="239.94" x2="422.40" y2="239.94" stroke="#161616" stroke-width="0.68"/>
<text x="0.00" y="0.00" font-size="6.8" text-anchor="end" transform="translate(419.10 242.14) scale(1 1.2)" fill="#161616" stroke="#161616" stroke-width="0.32">50</text>
<line x1="419.00" y1="220.76" x2="422.40" y2="220.76" stroke="#161616" stroke-width="0.68"/>
<text x="0.00" y="0.00" font-size="6.8" text-anchor="end" transform="translate(419.10 222.96) scale(1 1.2)" fill="#161616" stroke="#161616" stroke-width="0.32">75</text>
<line x1="419.00" y1="201.58" x2="422.40" y2="201.58" stroke="#161616" stroke-width="0.68"/>
<text x="0.00" y="0.00" font-size="6.8" text-anchor="end" transform="translate(419.10 203.78) scale(1 1.2)" fill="#161616" stroke="#161616" stroke-width="0.32">100</text>
<line x1="419.00" y1="182.40" x2="422.40" y2="182.40" stroke="#161616" stroke-width="0.68"/>
<text x="0.00" y="0.00" font-size="6.8" text-anchor="end" transform="translate(419.10 184.60) scale(1 1.2)" fill="#161616" stroke="#161616" stroke-width="0.32">125</text>
<line x1="430.25" y1="278.30" x2="430.25" y2="281.70" stroke="#161616" stroke-width="0.68"/>
<text x="0.00" y="0.00" font-size="6.8" text-anchor="middle" transform="translate(430.25 287.20) scale(1 1.2)" fill="#161616" stroke="#161616" stroke-width="0.32">0</text>
<line x1="446.25" y1="278.30" x2="446.25" y2="281.70" stroke="#161616" stroke-width="0.68"/>
<text x="0.00" y="0.00" font-size="6.8" text-anchor="middle" transform="translate(446.25 287.20) scale(1 1.2)" fill="#161616" stroke="#161616" stroke-width="0.32">0.1</text>
<line x1="462.25" y1="278.30" x2="462.25" y2="281.70" stroke="#161616" stroke-width="0.68"/>
<text x="0.00" y="0.00" font-size="6.8" text-anchor="middle" transform="translate(462.25 287.20) scale(1 1.2)" fill="#161616" stroke="#161616" stroke-width="0.32">0.2</text>
<line x1="478.25" y1="278.30" x2="478.25" y2="281.70" stroke="#161616" stroke-width="0.68"/>
<text x="0.00" y="0.00" font-size="6.8" text-anchor="middle" transform="translate(478.25 287.20) scale(1 1.2)" fill="#161616" stroke="#161616" stroke-width="0.32">0.3</text>
<line x1="494.25" y1="278.30" x2="494.25" y2="281.70" stroke="#161616" stroke-width="0.68"/>
<text x="0.00" y="0.00" font-size="6.8" text-anchor="middle" transform="translate(494.25 287.20) scale(1 1.2)" fill="#161616" stroke="#161616" stroke-width="0.32">0.4</text>
<line x1="510.25" y1="278.30" x2="510.25" y2="281.70" stroke="#161616" stroke-width="0.68"/>
<text x="0.00" y="0.00" font-size="6.8" text-anchor="middle" transform="translate(510.25 287.20) scale(1 1.2)" fill="#161616" stroke="#161616" stroke-width="0.32">0.5</text>
<text x="469.75" y="297.30" font-size="7.9" text-anchor="middle" fill="#161616" stroke="#161616" stroke-width="0.32">PPP (µM)</text>
<text x="0.00" y="0.00" font-size="7.9" text-anchor="start" transform="translate(403.80 283.30) rotate(-90)" fill="#161616" stroke="#161616" stroke-width="0.32">Relative no. of viable cells (%)</text>
<text x="398.40" y="170.90" font-size="11.6" text-anchor="start" font-weight="bold" fill="#000" stroke="#000" stroke-width="0">H</text>
<polyline points="430.25,196.67 446.25,197.13 462.25,201.89 478.25,218.84 494.25,237.87 510.25,241.86" fill="none" stroke="#161616" stroke-width="0.75" stroke-linejoin="round"/>
<polyline points="430.25,200.05 446.25,200.05 462.25,204.65 478.25,218.84 494.25,237.87 510.25,241.86" fill="none" stroke="#161616" stroke-width="0.75" stroke-linejoin="round"/>
<polyline points="430.25,201.89 446.25,201.12 462.25,206.18 478.25,225.82 494.25,241.09 510.25,243.78" fill="none" stroke="#161616" stroke-width="0.75" stroke-linejoin="round"/>
<circle cx="430.25" cy="196.67" r="1.4" fill="#161616" stroke="#161616" stroke-width="0.3"/>
<circle cx="446.25" cy="197.13" r="1.4" fill="#161616" stroke="#161616" stroke-width="0.3"/>
<circle cx="462.25" cy="201.89" r="1.4" fill="#161616" stroke="#161616" stroke-width="0.3"/>
<circle cx="478.25" cy="218.84" r="1.4" fill="#161616" stroke="#161616" stroke-width="0.3"/>
<circle cx="494.25" cy="237.87" r="1.4" fill="#161616" stroke="#161616" stroke-width="0.3"/>
<circle cx="510.25" cy="241.86" r="1.4" fill="#161616" stroke="#161616" stroke-width="0.3"/>
<circle cx="430.25" cy="200.05" r="1.75" fill="#fff" stroke="#161616" stroke-width="0.7"/>
<circle cx="446.25" cy="200.05" r="1.75" fill="#fff" stroke="#161616" stroke-width="0.7"/>
<circle cx="462.25" cy="204.65" r="1.75" fill="#fff" stroke="#161616" stroke-width="0.7"/>
<circle cx="478.25" cy="218.84" r="1.75" fill="#fff" stroke="#161616" stroke-width="0.7"/>
<circle cx="494.25" cy="237.87" r="1.75" fill="#fff" stroke="#161616" stroke-width="0.7"/>
<circle cx="510.25" cy="241.86" r="1.75" fill="#fff" stroke="#161616" stroke-width="0.7"/>
<rect x="428.65" y="200.29" width="3.20" height="3.20" fill="#fff" stroke="#161616" stroke-width="0.7"/>
<rect x="444.65" y="199.52" width="3.20" height="3.20" fill="#fff" stroke="#161616" stroke-width="0.7"/>
<rect x="460.65" y="204.58" width="3.20" height="3.20" fill="#fff" stroke="#161616" stroke-width="0.7"/>
<rect x="476.65" y="224.22" width="3.20" height="3.20" fill="#fff" stroke="#161616" stroke-width="0.7"/>
<rect x="492.65" y="239.49" width="3.20" height="3.20" fill="#fff" stroke="#161616" stroke-width="0.7"/>
<rect x="508.65" y="242.18" width="3.20" height="3.20" fill="#fff" stroke="#161616" stroke-width="0.7"/>
<rect x="397.60" y="328.60" width="118.80" height="95.40" fill="none" stroke="#161616" stroke-width="0.68"/>
<line x1="395.20" y1="424.00" x2="397.60" y2="424.00" stroke="#161616" stroke-width="0.68"/>
<text x="0.00" y="0.00" font-size="6.8" text-anchor="end" transform="translate(394.90 426.10) scale(1 1.18)" fill="#161616" stroke="#161616" stroke-width="0.32">50</text>
<line x1="395.20" y1="408.10" x2="397.60" y2="408.10" stroke="#161616" stroke-width="0.68"/>
<text x="0.00" y="0.00" font-size="6.8" text-anchor="end" transform="translate(394.90 410.20) scale(1 1.18)" fill="#161616" stroke="#161616" stroke-width="0.32">75</text>
<line x1="395.20" y1="392.20" x2="397.60" y2="392.20" stroke="#161616" stroke-width="0.68"/>
<text x="0.00" y="0.00" font-size="6.8" text-anchor="end" transform="translate(394.90 394.30) scale(1 1.18)" fill="#161616" stroke="#161616" stroke-width="0.32">100</text>
<line x1="395.20" y1="376.30" x2="397.60" y2="376.30" stroke="#161616" stroke-width="0.68"/>
<text x="0.00" y="0.00" font-size="6.8" text-anchor="end" transform="translate(394.90 378.40) scale(1 1.18)" fill="#161616" stroke="#161616" stroke-width="0.32">125</text>
<line x1="395.20" y1="360.40" x2="397.60" y2="360.40" stroke="#161616" stroke-width="0.68"/>
<text x="0.00" y="0.00" font-size="6.8" text-anchor="end" transform="translate(394.90 362.50) scale(1 1.18)" fill="#161616" stroke="#161616" stroke-width="0.32">150</text>
<line x1="395.20" y1="344.50" x2="397.60" y2="344.50" stroke="#161616" stroke-width="0.68"/>
<text x="0.00" y="0.00" font-size="6.8" text-anchor="end" transform="translate(394.90 346.60) scale(1 1.18)" fill="#161616" stroke="#161616" stroke-width="0.32">175</text>
<line x1="395.20" y1="328.60" x2="397.60" y2="328.60" stroke="#161616" stroke-width="0.68"/>
<text x="0.00" y="0.00" font-size="6.8" text-anchor="end" transform="translate(394.90 330.70) scale(1 1.18)" fill="#161616" stroke="#161616" stroke-width="0.32">200</text>
<line x1="403.45" y1="424.00" x2="403.45" y2="426.40" stroke="#161616" stroke-width="0.68"/>
<text x="0.00" y="0.00" font-size="6.1" text-anchor="middle" transform="translate(403.45 432.80) scale(1 1.2)" fill="#161616" stroke="#161616" stroke-width="0.32">0</text>
<line x1="415.40" y1="424.00" x2="415.40" y2="426.40" stroke="#161616" stroke-width="0.68"/>
<text x="0.00" y="0.00" font-size="6.1" text-anchor="middle" transform="translate(415.40 432.80) scale(1 1.2)" fill="#161616" stroke="#161616" stroke-width="0.32">0.01</text>
<line x1="427.35" y1="424.00" x2="427.35" y2="426.40" stroke="#161616" stroke-width="0.68"/>
<text x="0.00" y="0.00" font-size="6.1" text-anchor="middle" transform="translate(427.35 432.80) scale(1 1.2)" fill="#161616" stroke="#161616" stroke-width="0.32">0.02</text>
<line x1="439.30" y1="424.00" x2="439.30" y2="426.40" stroke="#161616" stroke-width="0.68"/>
<text x="0.00" y="0.00" font-size="6.1" text-anchor="middle" transform="translate(439.30 432.80) scale(1 1.2)" fill="#161616" stroke="#161616" stroke-width="0.32">0.1</text>
<line x1="451.25" y1="424.00" x2="451.25" y2="426.40" stroke="#161616" stroke-width="0.68"/>
<text x="0.00" y="0.00" font-size="6.1" text-anchor="middle" transform="translate(451.25 432.80) scale(1 1.2)" fill="#161616" stroke="#161616" stroke-width="0.32">0.2</text>
<line x1="463.20" y1="424.00" x2="463.20" y2="426.40" stroke="#161616" stroke-width="0.68"/>
<text x="0.00" y="0.00" font-size="6.1" text-anchor="middle" transform="translate(463.20 432.80) scale(1 1.2)" fill="#161616" stroke="#161616" stroke-width="0.32">1</text>
<line x1="475.15" y1="424.00" x2="475.15" y2="426.40" stroke="#161616" stroke-width="0.68"/>
<text x="0.00" y="0.00" font-size="6.1" text-anchor="middle" transform="translate(475.15 432.80) scale(1 1.2)" fill="#161616" stroke="#161616" stroke-width="0.32">2</text>
<line x1="487.10" y1="424.00" x2="487.10" y2="426.40" stroke="#161616" stroke-width="0.68"/>
<text x="0.00" y="0.00" font-size="6.1" text-anchor="middle" transform="translate(487.10 432.80) scale(1 1.2)" fill="#161616" stroke="#161616" stroke-width="0.32">10</text>
<line x1="499.05" y1="424.00" x2="499.05" y2="426.40" stroke="#161616" stroke-width="0.68"/>
<text x="0.00" y="0.00" font-size="6.1" text-anchor="middle" transform="translate(499.05 432.80) scale(1 1.2)" fill="#161616" stroke="#161616" stroke-width="0.32">20</text>
<line x1="511.00" y1="424.00" x2="511.00" y2="426.40" stroke="#161616" stroke-width="0.68"/>
<text x="0.00" y="0.00" font-size="6.1" text-anchor="middle" transform="translate(511.00 432.80) scale(1 1.2)" fill="#161616" stroke="#161616" stroke-width="0.32">100</text>
<polyline points="403.45,392.20 415.40,389.85 427.35,386.48 439.30,378.46 451.25,371.21 463.20,354.04 475.15,348.00 487.10,343.86 499.05,344.75 511.00,344.75" fill="none" stroke="#161616" stroke-width="0.9"/>
<rect x="401.90" y="390.65" width="3.10" height="3.10" fill="#161616"/>
<rect x="413.85" y="388.30" width="3.10" height="3.10" fill="#161616"/>
<rect x="425.80" y="384.93" width="3.10" height="3.10" fill="#161616"/>
<rect x="437.75" y="376.91" width="3.10" height="3.10" fill="#161616"/>
<rect x="449.70" y="369.66" width="3.10" height="3.10" fill="#161616"/>
<rect x="461.65" y="352.49" width="3.10" height="3.10" fill="#161616"/>
<rect x="473.60" y="346.45" width="3.10" height="3.10" fill="#161616"/>
<rect x="485.55" y="342.31" width="3.10" height="3.10" fill="#161616"/>
<rect x="497.50" y="343.20" width="3.10" height="3.10" fill="#161616"/>
<rect x="509.45" y="343.20" width="3.10" height="3.10" fill="#161616"/>
<text x="457.20" y="441.60" font-size="7.9" text-anchor="middle" fill="#161616" stroke="#161616" stroke-width="0.32">IL-6 (ng/mL)</text>
<text x="0.00" y="0.00" font-size="7.9" text-anchor="start" transform="translate(378.90 433.20) rotate(-90)" fill="#161616" stroke="#161616" stroke-width="0.32">Relative no. of viable cells (%)</text>
<text x="373.20" y="319.80" font-size="11.6" text-anchor="start" font-weight="bold" fill="#000" stroke="#000" stroke-width="0">I</text>
</g>
</svg>
</body></html>
